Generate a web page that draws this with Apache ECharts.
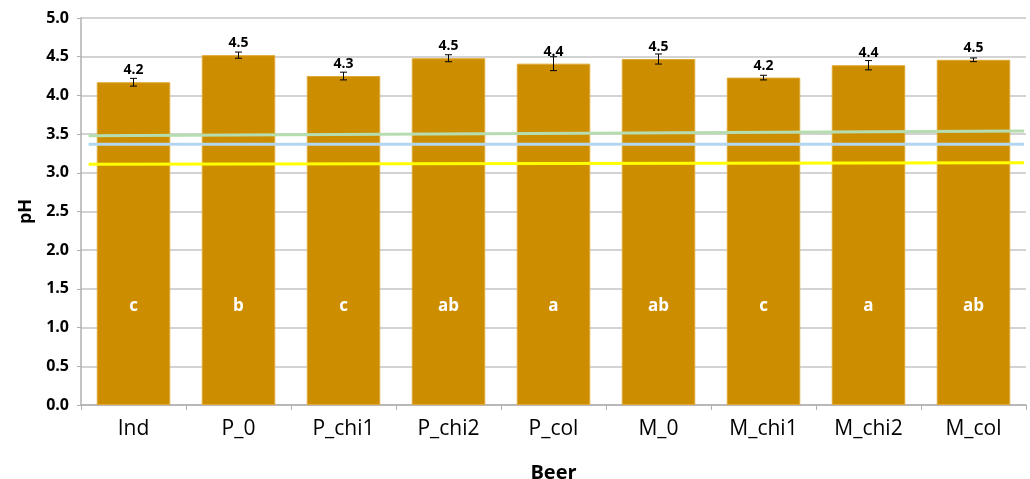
<!DOCTYPE html>
<html><head><meta charset="utf-8">
<script src="https://cdn.jsdelivr.net/npm/echarts@6/dist/echarts.min.js"></script>
<style>html,body{margin:0;padding:0;background:#fff}#c{width:1030px;height:479px}</style>
</head><body><div id="c"></div>
<script>
const categories = ['Ind','P_0','P_chi1','P_chi2','P_col','M_0','M_chi1','M_chi2','M_col'];
const phValues = [4.17,4.52,4.25,4.48,4.41,4.47,4.23,4.39,4.46];
const phErrors = [0.05,0.04,0.05,0.045,0.09,0.065,0.03,0.06,0.024];
const letters = ['c','b','c','ab','a','ab','c','a','ab'];
const greenLine = [3.48,3.54];
const blueLine = [3.37,3.37];
const yellowLine = [3.11,3.13];
const yTicks = ['0.0','0.5','1.0','1.5','2.0','2.5','3.0','3.5','4.0','4.5','5.0'];

const FONT = '"Open Sans", "Noto Sans", sans-serif';
const chart = echarts.init(document.getElementById('c'));
const lineX = [0.008, 0.998];
chart.setOption({
  animation:false,
  grid:{left:81,right:4,top:18,bottom:74,outerBoundsMode:'none',containLabel:false},
  xAxis:[{
    type:'category',data:categories,
    axisLine:{lineStyle:{color:'#b0b0b0',width:1.5}},
    axisTick:{show:true,length:5,interval:0,lineStyle:{color:'#b0b0b0'}},
    axisLabel:{fontFamily:FONT,fontSize:21,color:'#000',margin:14},
    name:'Beer',nameLocation:'middle',nameGap:58,
    nameTextStyle:{fontFamily:FONT,fontSize:20,fontWeight:'bold',color:'#000'}
  },{
    type:'value',min:0,max:1,show:false
  }],
  yAxis:{
    type:'value',min:0,max:5,interval:0.5,
    axisLine:{show:true,lineStyle:{color:'#b0b0b0',width:1.5}},
    axisTick:{show:true,length:4,lineStyle:{color:'#b0b0b0'}},
    splitLine:{lineStyle:{color:'#c4c4c4',width:1.5}},
    axisLabel:{fontFamily:FONT,fontSize:16,fontWeight:'bold',color:'#000',margin:12,
      formatter:(v)=>yTicks[Math.round(v*2)]},
    name:'pH',nameLocation:'middle',nameGap:45,
    nameTextStyle:{fontFamily:FONT,fontSize:18,fontWeight:'bold',color:'#000'}
  },
  series:[
    {type:'bar',data:phValues,barWidth:'70%',
     itemStyle:{color:'#cc8e00',borderColor:'#e0a832',borderWidth:1},
     label:{show:true,position:'top',distance:5,fontFamily:FONT,fontSize:14,fontWeight:'bold',color:'#000',
       formatter:(p)=>p.value.toFixed(1)},
     z:2},
    {type:'line',xAxisIndex:1,data:lineX.map((x,i)=>[x,greenLine[i]]),symbol:'none',
     lineStyle:{color:'#b6ddb0',width:3},z:3},
    {type:'line',xAxisIndex:1,data:lineX.map((x,i)=>[x,blueLine[i]]),symbol:'none',
     lineStyle:{color:'#b3d6f0',width:3},z:3},
    {type:'line',xAxisIndex:1,data:lineX.map((x,i)=>[x,yellowLine[i]]),symbol:'none',
     lineStyle:{color:'#ffff00',width:3},z:3},
    {type:'custom',
     data:phValues.map((v,i)=>[i,v,phErrors[i]]),
     renderItem:function(params,api){
       const i=api.value(0),v=api.value(1),e=api.value(2);
       const top=api.coord([i,v+e]),bot=api.coord([i,v-e]),base=api.coord([i,0]);
       const x=top[0],cw=3.5;
       return {type:'group',children:[
         {type:'line',shape:{x1:x,y1:top[1],x2:x,y2:bot[1]},style:{stroke:'#000',lineWidth:1}},
         {type:'line',shape:{x1:x-cw,y1:top[1],x2:x+cw,y2:top[1]},style:{stroke:'#000',lineWidth:1}},
         {type:'line',shape:{x1:x-cw,y1:bot[1],x2:x+cw,y2:bot[1]},style:{stroke:'#000',lineWidth:1}},
         {type:'text',style:{x:x,y:base[1]-99,text:letters[params.dataIndex],fill:'#fff',
           font:'bold 17px '+FONT,textAlign:'center',textVerticalAlign:'middle'}}
       ]};
     },z:4}
  ]
});
</script></body></html>
